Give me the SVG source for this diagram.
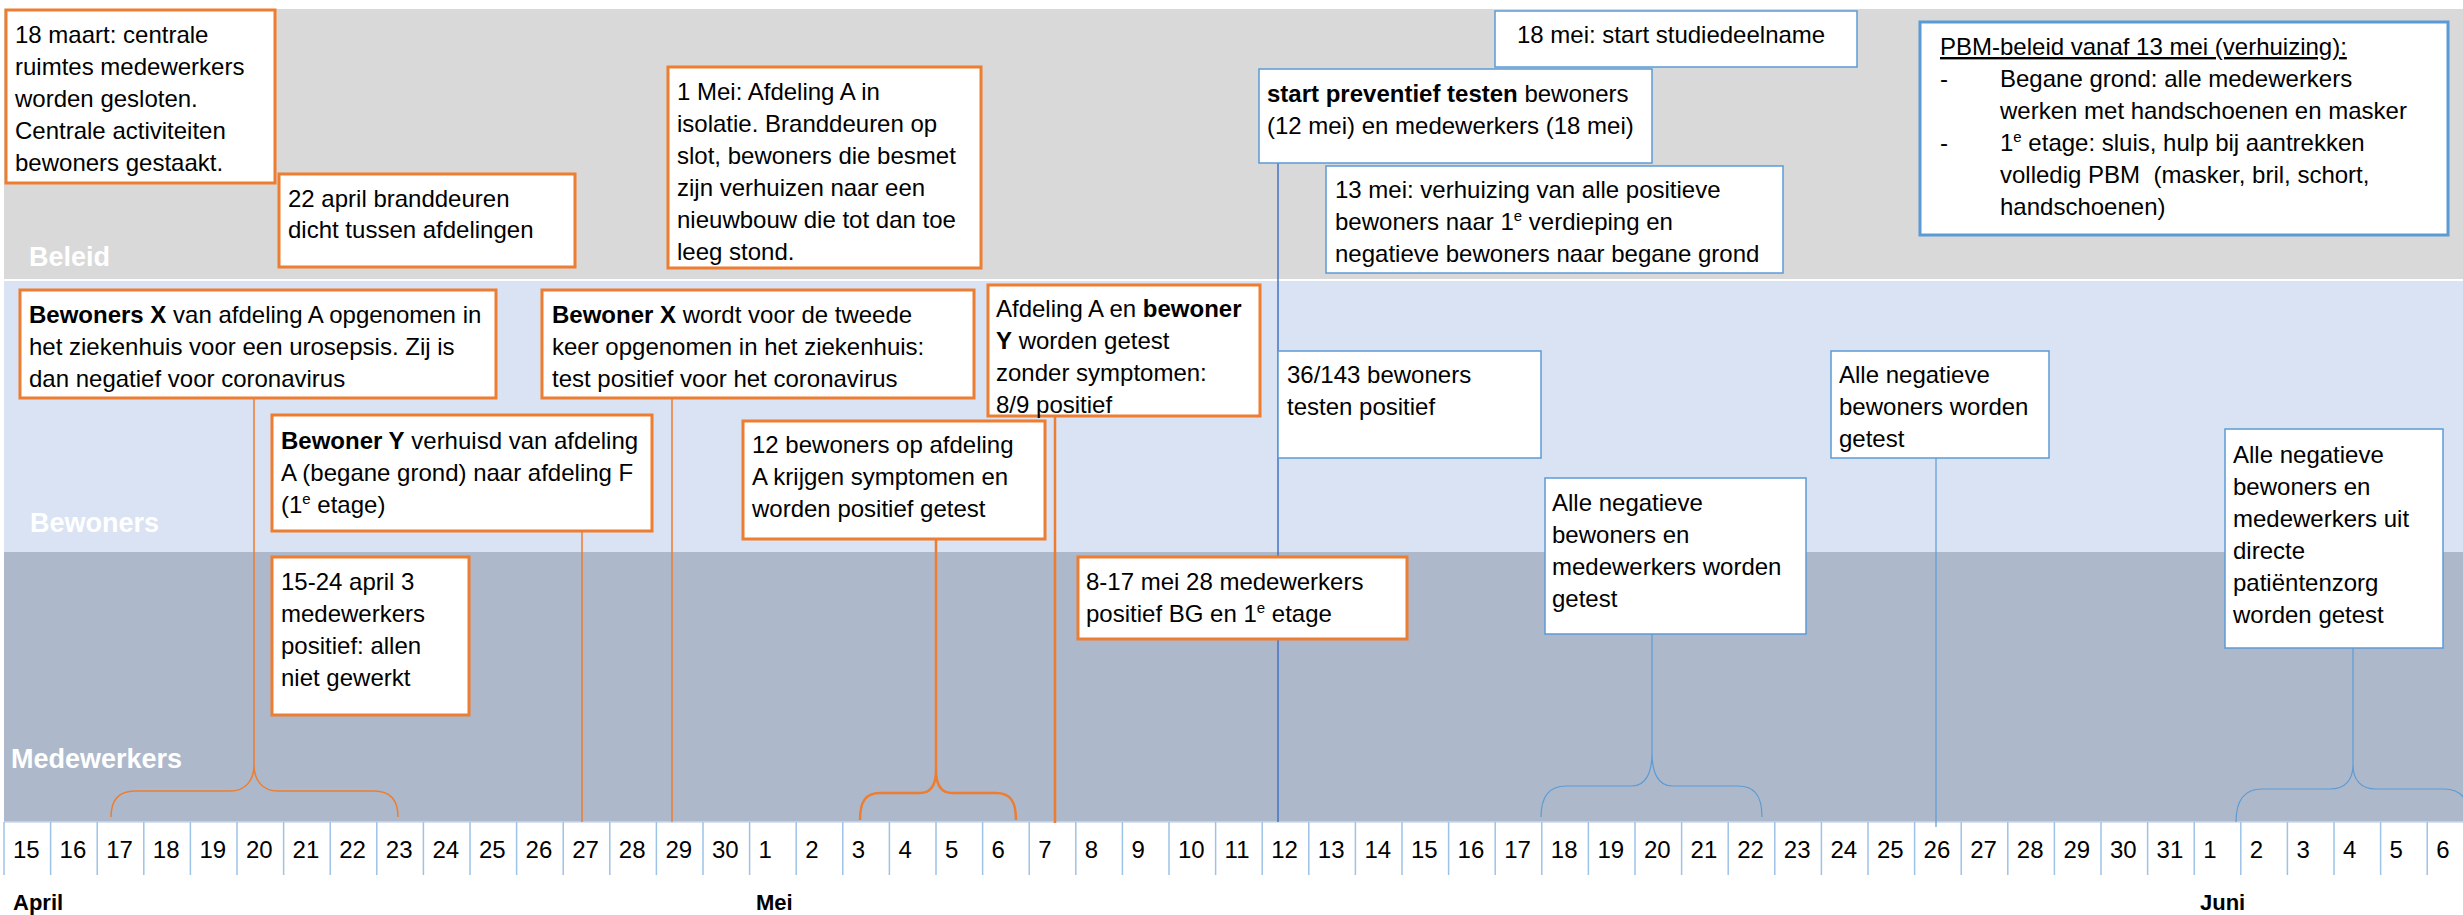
<svg xmlns="http://www.w3.org/2000/svg" width="2463" height="915" viewBox="0 0 2463 915">
<style>
.t{font-family:"Liberation Sans",Arial,sans-serif;font-size:24px;fill:#000}
.b{font-weight:bold}
.lbl{font-family:"Liberation Sans",Arial,sans-serif;font-size:27px;font-weight:bold;fill:#fff}
.mon{font-family:"Liberation Sans",Arial,sans-serif;font-size:22px;font-weight:bold;fill:#000}
.ob{fill:#fff;stroke:#ed7d31;stroke-width:3}
.bb{fill:#fff;stroke:#5b9bd5;stroke-width:1.5}
.oc{fill:none;stroke:#ed7d31;stroke-width:1.5}
.ocw{fill:none;stroke:#ed7d31;stroke-width:2.5}
.bc{fill:none;stroke:#5b9bd5;stroke-width:1.2}
.sep{stroke:#9dc3e6;stroke-width:1.5}
.d{font-family:"Liberation Sans",Arial,sans-serif;font-size:24px;fill:#000}
</style>
<rect width="2463" height="915" fill="#fff"/>
<g id="bands">
<rect x="4" y="9" width="2459" height="271" fill="#d9d9d9"/>
<rect x="4" y="280" width="2459" height="272" fill="#dae3f3"/>
<rect x="4" y="552" width="2459" height="270" fill="#adb9ca"/>
<line x1="4" y1="280" x2="2463" y2="280" stroke="#fff" stroke-width="2"/>
<text class="lbl" x="29" y="266">Beleid</text>
<text class="lbl" x="30" y="532">Bewoners</text>
<text class="lbl" x="11" y="768">Medewerkers</text>
</g>
<g id="timeline">
<line x1="4" y1="822" x2="2463" y2="822" stroke="#c9d8ee" stroke-width="1.5"/>
<g class="sep">
<line x1="4" y1="822" x2="4" y2="875"/><line x1="50.6" y1="822" x2="50.6" y2="875"/><line x1="97.2" y1="822" x2="97.2" y2="875"/><line x1="143.8" y1="822" x2="143.8" y2="875"/><line x1="190.4" y1="822" x2="190.4" y2="875"/><line x1="237" y1="822" x2="237" y2="875"/><line x1="283.6" y1="822" x2="283.6" y2="875"/><line x1="330.2" y1="822" x2="330.2" y2="875"/><line x1="376.8" y1="822" x2="376.8" y2="875"/><line x1="423.4" y1="822" x2="423.4" y2="875"/><line x1="470" y1="822" x2="470" y2="875"/><line x1="516.6" y1="822" x2="516.6" y2="875"/><line x1="563.2" y1="822" x2="563.2" y2="875"/><line x1="609.8" y1="822" x2="609.8" y2="875"/><line x1="656.4" y1="822" x2="656.4" y2="875"/><line x1="703" y1="822" x2="703" y2="875"/><line x1="749.6" y1="822" x2="749.6" y2="875"/><line x1="796.2" y1="822" x2="796.2" y2="875"/><line x1="842.8" y1="822" x2="842.8" y2="875"/><line x1="889.4" y1="822" x2="889.4" y2="875"/><line x1="936" y1="822" x2="936" y2="875"/><line x1="982.6" y1="822" x2="982.6" y2="875"/><line x1="1029.2" y1="822" x2="1029.2" y2="875"/><line x1="1075.8" y1="822" x2="1075.8" y2="875"/><line x1="1122.4" y1="822" x2="1122.4" y2="875"/><line x1="1169" y1="822" x2="1169" y2="875"/><line x1="1215.6" y1="822" x2="1215.6" y2="875"/><line x1="1262.2" y1="822" x2="1262.2" y2="875"/><line x1="1308.8" y1="822" x2="1308.8" y2="875"/><line x1="1355.4" y1="822" x2="1355.4" y2="875"/><line x1="1402" y1="822" x2="1402" y2="875"/><line x1="1448.6" y1="822" x2="1448.6" y2="875"/><line x1="1495.2" y1="822" x2="1495.2" y2="875"/><line x1="1541.8" y1="822" x2="1541.8" y2="875"/><line x1="1588.4" y1="822" x2="1588.4" y2="875"/><line x1="1635" y1="822" x2="1635" y2="875"/><line x1="1681.6" y1="822" x2="1681.6" y2="875"/><line x1="1728.2" y1="822" x2="1728.2" y2="875"/><line x1="1774.8" y1="822" x2="1774.8" y2="875"/><line x1="1821.4" y1="822" x2="1821.4" y2="875"/><line x1="1868" y1="822" x2="1868" y2="875"/><line x1="1914.6" y1="822" x2="1914.6" y2="875"/><line x1="1961.2" y1="822" x2="1961.2" y2="875"/><line x1="2007.8" y1="822" x2="2007.8" y2="875"/><line x1="2054.4" y1="822" x2="2054.4" y2="875"/><line x1="2101" y1="822" x2="2101" y2="875"/><line x1="2147.6" y1="822" x2="2147.6" y2="875"/><line x1="2194.2" y1="822" x2="2194.2" y2="875"/><line x1="2240.8" y1="822" x2="2240.8" y2="875"/><line x1="2287.4" y1="822" x2="2287.4" y2="875"/><line x1="2334" y1="822" x2="2334" y2="875"/><line x1="2380.6" y1="822" x2="2380.6" y2="875"/><line x1="2427.2" y1="822" x2="2427.2" y2="875"/>
</g>
<g class="d">
<text x="13" y="858">15</text><text x="59.6" y="858">16</text><text x="106.2" y="858">17</text><text x="152.8" y="858">18</text><text x="199.4" y="858">19</text><text x="246" y="858">20</text><text x="292.6" y="858">21</text><text x="339.2" y="858">22</text><text x="385.8" y="858">23</text><text x="432.4" y="858">24</text><text x="479" y="858">25</text><text x="525.6" y="858">26</text><text x="572.2" y="858">27</text><text x="618.8" y="858">28</text><text x="665.4" y="858">29</text><text x="712" y="858">30</text>
<text x="758.6" y="858">1</text><text x="805.2" y="858">2</text><text x="851.8" y="858">3</text><text x="898.4" y="858">4</text><text x="945" y="858">5</text><text x="991.6" y="858">6</text><text x="1038.2" y="858">7</text><text x="1084.8" y="858">8</text><text x="1131.4" y="858">9</text><text x="1178" y="858">10</text><text x="1224.6" y="858">11</text><text x="1271.2" y="858">12</text><text x="1317.8" y="858">13</text><text x="1364.4" y="858">14</text><text x="1411" y="858">15</text><text x="1457.6" y="858">16</text><text x="1504.2" y="858">17</text><text x="1550.8" y="858">18</text><text x="1597.4" y="858">19</text><text x="1644" y="858">20</text><text x="1690.6" y="858">21</text><text x="1737.2" y="858">22</text><text x="1783.8" y="858">23</text><text x="1830.4" y="858">24</text><text x="1877" y="858">25</text><text x="1923.6" y="858">26</text><text x="1970.2" y="858">27</text><text x="2016.8" y="858">28</text><text x="2063.4" y="858">29</text><text x="2110" y="858">30</text><text x="2156.6" y="858">31</text>
<text x="2203.2" y="858">1</text><text x="2249.8" y="858">2</text><text x="2296.4" y="858">3</text><text x="2343" y="858">4</text><text x="2389.6" y="858">5</text><text x="2436.2" y="858">6</text>
</g>
<text class="mon" x="13" y="910">April</text>
<text class="mon" x="756" y="910">Mei</text>
<text class="mon" x="2200" y="910">Juni</text>
</g>
<g id="connectors">
<line x1="1278" y1="163" x2="1278" y2="822" stroke="#4472c4" stroke-width="1.5"/>
<path class="oc" d="M254,398 L254,765"/>
<path class="oc" d="M111,817 C111,800 118,791 135,791 L230,791 C246,791 254,780 254,765 C254,780 262,791 278,791 L374,791 C390,791 398,800 398,817"/>
<path class="oc" d="M582,531 L582,822"/>
<path class="oc" d="M672,398 L672,822"/>
<path class="ocw" d="M936,539 L936,770"/>
<path class="ocw" d="M860,820 C860,801 866,793 880,793 L920,793 C931,793 936,785 936,770 C936,785 941,793 952,793 L996,793 C1010,793 1016,801 1016,820"/>
<path class="ocw" d="M1055,416 L1055,823"/>
<path class="bc" d="M1936,458 L1936,827"/>
<path class="bc" d="M1652,634 L1652,753"/>
<path class="bc" d="M1541,817 C1541,795 1550,786 1566,786 L1632,786 C1646,786 1652,772 1652,753 C1652,772 1658,786 1672,786 L1738,786 C1754,786 1762,795 1762,817"/>
<path class="bc" d="M2353,648 L2353,765"/>
<path class="bc" d="M2236,822 C2236,800 2245,789 2262,789 L2330,789 C2345,789 2353,780 2353,765 C2353,780 2361,789 2376,789 L2444,789 C2461,789 2470,800 2470,822"/>
</g>
<g id="n-18maart">
<rect class="ob" x="6" y="10" width="269" height="173"/>
<text class="t" x="15" y="43">18 maart: centrale</text>
<text class="t" x="15" y="75">ruimtes medewerkers</text>
<text class="t" x="15" y="107">worden gesloten.</text>
<text class="t" x="15" y="139">Centrale activiteiten</text>
<text class="t" x="15" y="171">bewoners gestaakt.</text>
</g>
<g id="n-22april">
<rect class="ob" x="279" y="174" width="296" height="93"/>
<text class="t" x="288" y="207">22 april branddeuren</text>
<text class="t" x="288" y="238">dicht tussen afdelingen</text>
</g>
<g id="n-1mei">
<rect class="ob" x="668" y="67" width="313" height="201"/>
<text class="t" x="677" y="100">1 Mei: Afdeling A in</text>
<text class="t" x="677" y="132">isolatie. Branddeuren op</text>
<text class="t" x="677" y="164">slot, bewoners die besmet</text>
<text class="t" x="677" y="196">zijn verhuizen naar een</text>
<text class="t" x="677" y="228">nieuwbouw die tot dan toe</text>
<text class="t" x="677" y="260">leeg stond.</text>
</g>
<g id="n-preventief">
<rect class="bb" x="1259" y="69" width="393" height="94"/>
<text class="t" x="1267" y="102"><tspan class="b">start preventief testen</tspan> bewoners</text>
<text class="t" x="1267" y="134">(12 mei) en medewerkers (18 mei)</text>
</g>
<g id="n-studie">
<rect class="bb" x="1495" y="11" width="362" height="56"/>
<text class="t" x="1517" y="43">18 mei: start studiedeelname</text>
</g>
<g id="n-13mei">
<rect class="bb" x="1326" y="166" width="457" height="107"/>
<text class="t" x="1335" y="198">13 mei: verhuizing van alle positieve</text>
<text class="t" x="1335" y="230">bewoners naar 1<tspan font-size="15" dy="-9">e</tspan><tspan dy="9"> verdieping en</tspan></text>
<text class="t" x="1335" y="262">negatieve bewoners naar begane grond</text>
</g>
<g id="n-pbm">
<rect fill="#fff" stroke="#5b9bd5" stroke-width="3" x="1920" y="22" width="528" height="213"/>
<text class="t" x="1940" y="55" text-decoration="underline">PBM-beleid vanaf 13 mei (verhuizing):</text>
<text class="t" x="1940" y="87">-</text>
<text class="t" x="2000" y="87">Begane grond: alle medewerkers</text>
<text class="t" x="2000" y="119">werken met handschoenen en masker</text>
<text class="t" x="1940" y="151">-</text>
<text class="t" x="2000" y="151">1<tspan font-size="15" dy="-9">e</tspan><tspan dy="9"> etage: sluis, hulp bij aantrekken</tspan></text>
<text class="t" x="2000" y="183" style="white-space:pre">volledig PBM  (masker, bril, schort,</text>
<text class="t" x="2000" y="215">handschoenen)</text>
</g>
<g id="n-bewonersX1">
<rect class="ob" x="20" y="290" width="476" height="108"/>
<text class="t" x="29" y="323"><tspan class="b">Bewoners X</tspan> van afdeling A opgenomen in</text>
<text class="t" x="29" y="355">het ziekenhuis voor een urosepsis. Zij is</text>
<text class="t" x="29" y="387">dan negatief voor coronavirus</text>
</g>
<g id="n-bewonerY">
<rect class="ob" x="272" y="415" width="380" height="116"/>
<text class="t" x="281" y="449"><tspan class="b">Bewoner Y</tspan> verhuisd van afdeling</text>
<text class="t" x="281" y="481">A (begane grond) naar afdeling F</text>
<text class="t" x="281" y="513">(1<tspan font-size="15" dy="-9">e</tspan><tspan dy="9"> etage)</tspan></text>
</g>
<g id="n-bewonerX2">
<rect class="ob" x="542" y="290" width="432" height="108"/>
<text class="t" x="552" y="323"><tspan class="b">Bewoner X</tspan> wordt voor de tweede</text>
<text class="t" x="552" y="355">keer opgenomen in het ziekenhuis:</text>
<text class="t" x="552" y="387">test positief voor het coronavirus</text>
</g>
<g id="n-afdelingA">
<rect class="ob" x="988" y="285" width="272" height="131"/>
<text class="t" x="996" y="317">Afdeling A en <tspan class="b">bewoner</tspan></text>
<text class="t" x="996" y="349"><tspan class="b">Y</tspan> worden getest</text>
<text class="t" x="996" y="381">zonder symptomen:</text>
<text class="t" x="996" y="413">8/9 positief</text>
</g>
<g id="n-12bewoners">
<rect class="ob" x="743" y="421" width="302" height="118"/>
<text class="t" x="752" y="453">12 bewoners op afdeling</text>
<text class="t" x="752" y="485">A krijgen symptomen en</text>
<text class="t" x="752" y="517">worden positief getest</text>
</g>
<g id="n-36of143">
<rect class="bb" x="1278" y="351" width="263" height="107"/>
<text class="t" x="1287" y="383">36/143 bewoners</text>
<text class="t" x="1287" y="415">testen positief</text>
</g>
<g id="n-alleneg1">
<rect class="bb" x="1831" y="351" width="218" height="107"/>
<text class="t" x="1839" y="383">Alle negatieve</text>
<text class="t" x="1839" y="415">bewoners worden</text>
<text class="t" x="1839" y="447">getest</text>
</g>
<g id="n-alleneg2">
<rect class="bb" x="1545" y="478" width="261" height="156"/>
<text class="t" x="1552" y="511">Alle negatieve</text>
<text class="t" x="1552" y="543">bewoners en</text>
<text class="t" x="1552" y="575">medewerkers worden</text>
<text class="t" x="1552" y="607">getest</text>
</g>
<g id="n-alleneg3">
<rect class="bb" x="2225" y="429" width="218" height="219"/>
<text class="t" x="2233" y="463">Alle negatieve</text>
<text class="t" x="2233" y="495">bewoners en</text>
<text class="t" x="2233" y="527">medewerkers uit</text>
<text class="t" x="2233" y="559">directe</text>
<text class="t" x="2233" y="591">patiëntenzorg</text>
<text class="t" x="2233" y="623">worden getest</text>
</g>
<g id="n-15-24april">
<rect class="ob" x="272" y="557" width="197" height="158"/>
<text class="t" x="281" y="590">15-24 april 3</text>
<text class="t" x="281" y="622">medewerkers</text>
<text class="t" x="281" y="654">positief: allen</text>
<text class="t" x="281" y="686">niet gewerkt</text>
</g>
<g id="n-8-17mei">
<rect class="ob" x="1078" y="557" width="329" height="82"/>
<text class="t" x="1086" y="590">8-17 mei 28 medewerkers</text>
<text class="t" x="1086" y="622">positief BG en 1<tspan font-size="15" dy="-9">e</tspan><tspan dy="9"> etage</tspan></text>
</g>
</svg>
